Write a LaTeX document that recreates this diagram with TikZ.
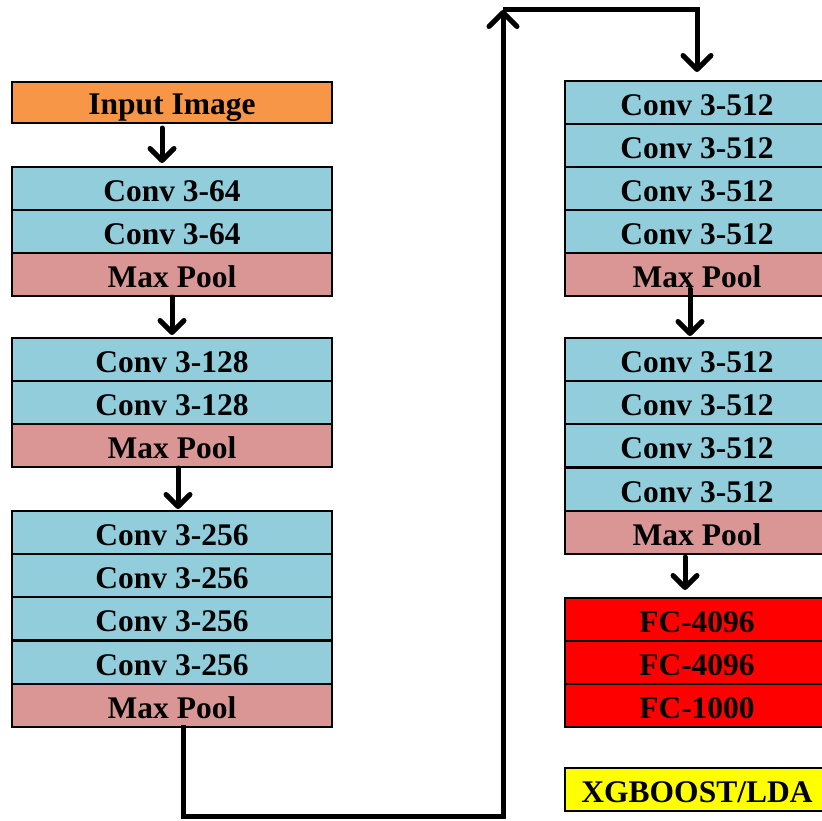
\documentclass[tikz,border=0pt]{standalone}
\usepackage{fontspec}
\setmainfont{Liberation Serif}
\usetikzlibrary{arrows.meta}
\definecolor{inorange}{HTML}{F79646}
\definecolor{convblue}{HTML}{92CDDC}
\definecolor{poolpink}{HTML}{D99694}
\definecolor{fcred}{HTML}{FF0000}
\definecolor{xgyellow}{HTML}{FFFF00}
\tikzset{
  cell/.style={draw=black, line width=2pt, rectangle, inner sep=0pt,
    font=\fontsize{31.5}{31.5}\selectfont\bfseries, text=black,
    text height=34.5pt, text depth=8.5pt},
  lcell/.style={cell, minimum width=320pt},
  rcell/.style={cell, minimum width=264pt},
  conv/.style={fill=convblue, minimum height=43pt},
  pool/.style={fill=poolpink, minimum height=43pt},
  fc/.style={fill=fcred, minimum height=43pt},
  shadowed/.style={preaction={draw=black!30, transform canvas={shift={(1.5pt,-1.5pt)}}}},
  arr/.style={shadowed, line width=5pt, line cap=round,
    -{Straight Barb[length=12pt,width=24pt,round]}},
  bigarr/.style={shadowed, line width=5pt,
    -{Straight Barb[length=14pt,width=28pt,round]}}
}
\begin{document}
\begin{tikzpicture}[x=1pt,y=-1pt]
\useasboundingbox (0,0) rectangle (822,821);
% left column
\node[lcell, fill=inorange, minimum height=41pt, text height=33pt, text depth=8pt] (in) at (172,102.5) {Input Image};
\node[lcell, conv] (c1a) at (172,188.5) {Conv 3-64};
\node[lcell, conv] (c1b) at (172,231.5) {Conv 3-64};
\node[lcell, pool] (p1) at (172,274.5) {Max Pool};
\node[lcell, conv] (c2a) at (172,359.5) {Conv 3-128};
\node[lcell, conv] (c2b) at (172,402.5) {Conv 3-128};
\node[lcell, pool] (p2) at (172,445.5) {Max Pool};
\node[lcell, conv] (c3a) at (172,532.5) {Conv 3-256};
\node[lcell, conv] (c3b) at (172,575.5) {Conv 3-256};
\node[lcell, conv] (c3c) at (172,618.5) {Conv 3-256};
\node[lcell, conv] (c3d) at (172,662) {Conv 3-256};
\node[lcell, pool] (p3) at (172,705.5) {Max Pool};
% right column
\node[rcell, conv] (c4a) at (697,102.5) {Conv 3-512};
\node[rcell, conv] (c4b) at (697,145.5) {Conv 3-512};
\node[rcell, conv] (c4c) at (697,188.5) {Conv 3-512};
\node[rcell, conv] (c4d) at (697,231.5) {Conv 3-512};
\node[rcell, pool] (p4) at (697,274.5) {Max Pool};
\node[rcell, conv] (c5a) at (697,359.5) {Conv 3-512};
\node[rcell, conv] (c5b) at (697,402.5) {Conv 3-512};
\node[rcell, conv] (c5c) at (697,445.5) {Conv 3-512};
\node[rcell, conv] (c5d) at (697,489) {Conv 3-512};
\node[rcell, pool] (p5) at (697,532.5) {Max Pool};
\node[rcell, fc] (f1) at (697,619.5) {FC-4096};
\node[rcell, fc] (f2) at (697,662.5) {FC-4096};
\node[rcell, fc] (f3) at (697,705.5) {FC-1000};
\node[rcell, fill=xgyellow, minimum height=43pt] (xg) at (697,789.5) {XGBOOST/LDA};
% short arrows
\draw[arr, shorten <=4pt, shorten >=3pt] ([xshift=-10pt]in.south) -- ([xshift=-10pt]c1a.north);
\draw[arr, shorten >=2pt] (p1.south) -- (c2a.north);
\draw[arr, shorten >=1pt] ([xshift=6pt]p2.south) -- ([xshift=6pt]c3a.north);
\draw[arr, shorten <=-8pt, shorten >=1pt] ([xshift=-7pt]p4.south) -- ([xshift=-7pt]c5a.north);
\draw[arr, shorten <=2pt, shorten >=7pt] ([xshift=-12pt]p5.south) -- ([xshift=-12pt]f1.north);
% long connector
\coordinate (b1) at (503,816);
\coordinate (t1) at (503,10);
\draw[bigarr, line join=miter, shorten <=-3pt] ([xshift=11pt]p3.south) |- (b1) -- (t1);
\draw[bigarr, line join=miter, shorten >=8pt] (t1) -| (c4a.north);
\end{tikzpicture}
\end{document}
